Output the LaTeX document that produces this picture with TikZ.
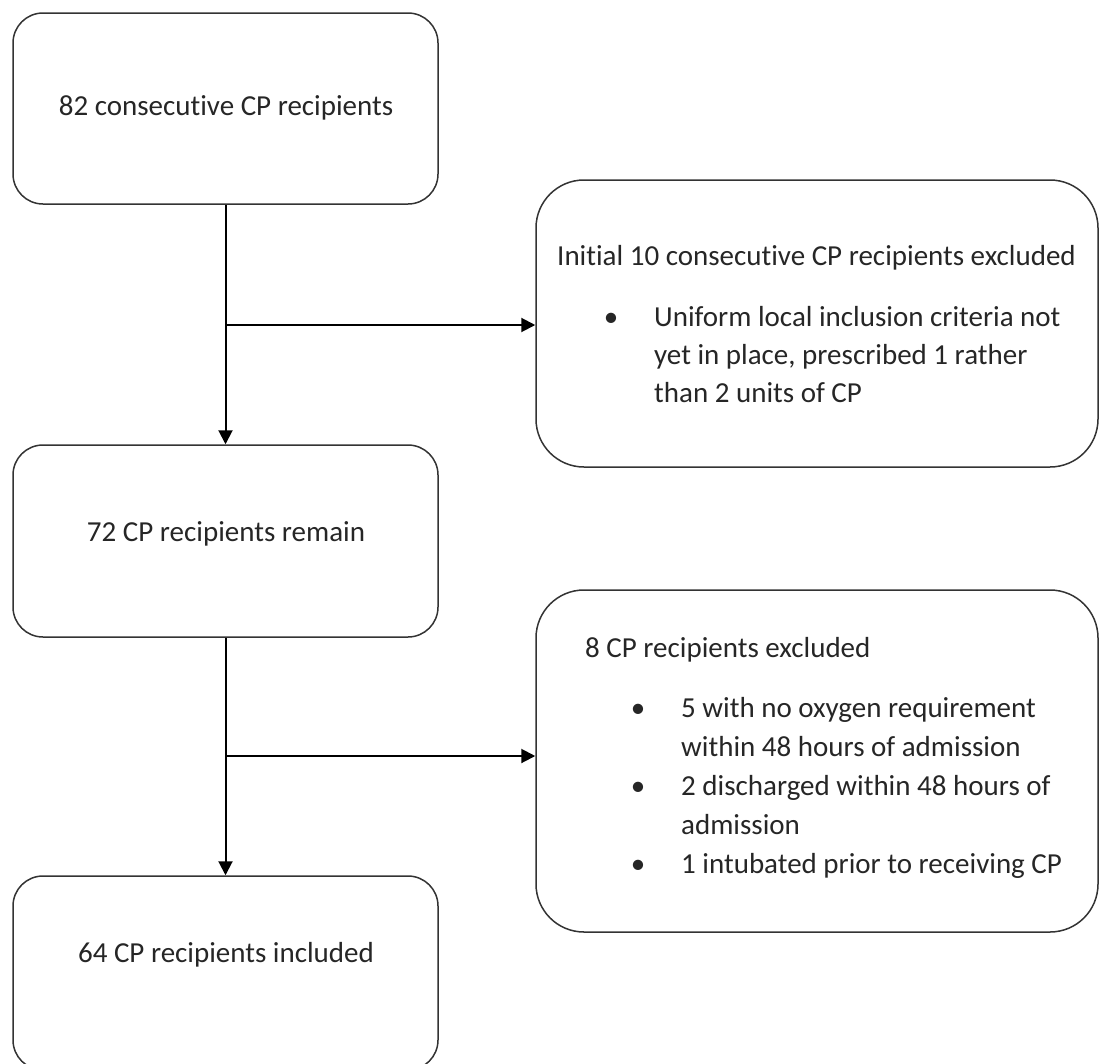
\documentclass[tikz,border=0pt]{standalone}
\usepackage{fontspec}
\setmainfont{Carlito}[Ligatures=NoCommon]
\usetikzlibrary{arrows.meta}
\begin{document}
\begin{tikzpicture}[x=1pt,y=-1pt,
  box/.style={draw=black!80, line width=1.5pt, rounded corners=30pt, inner sep=0pt},
  bigbox/.style={box, rounded corners=48pt},
  txt/.style={anchor=base west, inner sep=0pt, font=\fontsize{29}{38}\selectfont, text=black!85},
  ctxt/.style={txt, anchor=base},
  bul/.style={txt, anchor=base},
  conn/.style={line width=2pt, black},
  arr/.style={conn, -{Triangle[length=14pt,width=14pt]}}]
\useasboundingbox (0,0) rectangle (1100,1063);
% boxes
\node[box, minimum width=425pt, minimum height=191pt] (b1) at (225.5,108.5) {};
\node[box, minimum width=425pt, minimum height=192pt] (b3) at (225.5,541) {};
\node[box, minimum width=425pt, minimum height=194pt] (b5) at (225.5,973) {};
\node[bigbox, minimum width=562pt, minimum height=287pt] (b2) at (817,323.5) {};
\node[bigbox, minimum width=562pt, minimum height=342pt] (b4) at (817,761) {};
% texts
\node[ctxt] (t1) at (226,115) {82 consecutive CP recipients};
\node[ctxt] (t3) at (226,541) {72 CP recipients remain};
\node[ctxt] (t5) at (226,962) {64 CP recipients included};
\node[txt] (h2) at (557,265) {Initial 10 consecutive CP recipients excluded};
\node[bul] (u2) at (611,326) {\textbullet};
\node[txt] (l21) at (654,326) {Uniform local inclusion criteria not};
\node[txt] (l22) at (654,364) {yet in place, prescribed 1 rather};
\node[txt] (l23) at (654,402) {than 2 units of CP};
\node[txt] (h4) at (585,657) {8 CP recipients excluded};
\node[bul] (u41) at (638,717) {\textbullet};
\node[txt] (l41) at (681,717) {5 with no oxygen requirement};
\node[txt] (l42) at (681,756) {within 48 hours of admission};
\node[bul] (u42) at (638,795) {\textbullet};
\node[txt] (l43) at (681,795) {2 discharged within 48 hours of};
\node[txt] (l44) at (681,834) {admission};
\node[bul] (u43) at (638,873) {\textbullet};
\node[txt] (l45) at (681,873) {1 intubated prior to receiving CP};
% connectors
\coordinate (j1) at (b1.south |- 0,325);
\coordinate (j2) at (b3.south |- 0,756);
\draw[arr] (b1.south) -- (b3.north);
\draw[arr] (j1) -- (j1 -| b2.west);
\draw[arr] (b3.south) -- (b5.north);
\draw[arr] (j2) -- (j2 -| b4.west);
\end{tikzpicture}
\end{document}
